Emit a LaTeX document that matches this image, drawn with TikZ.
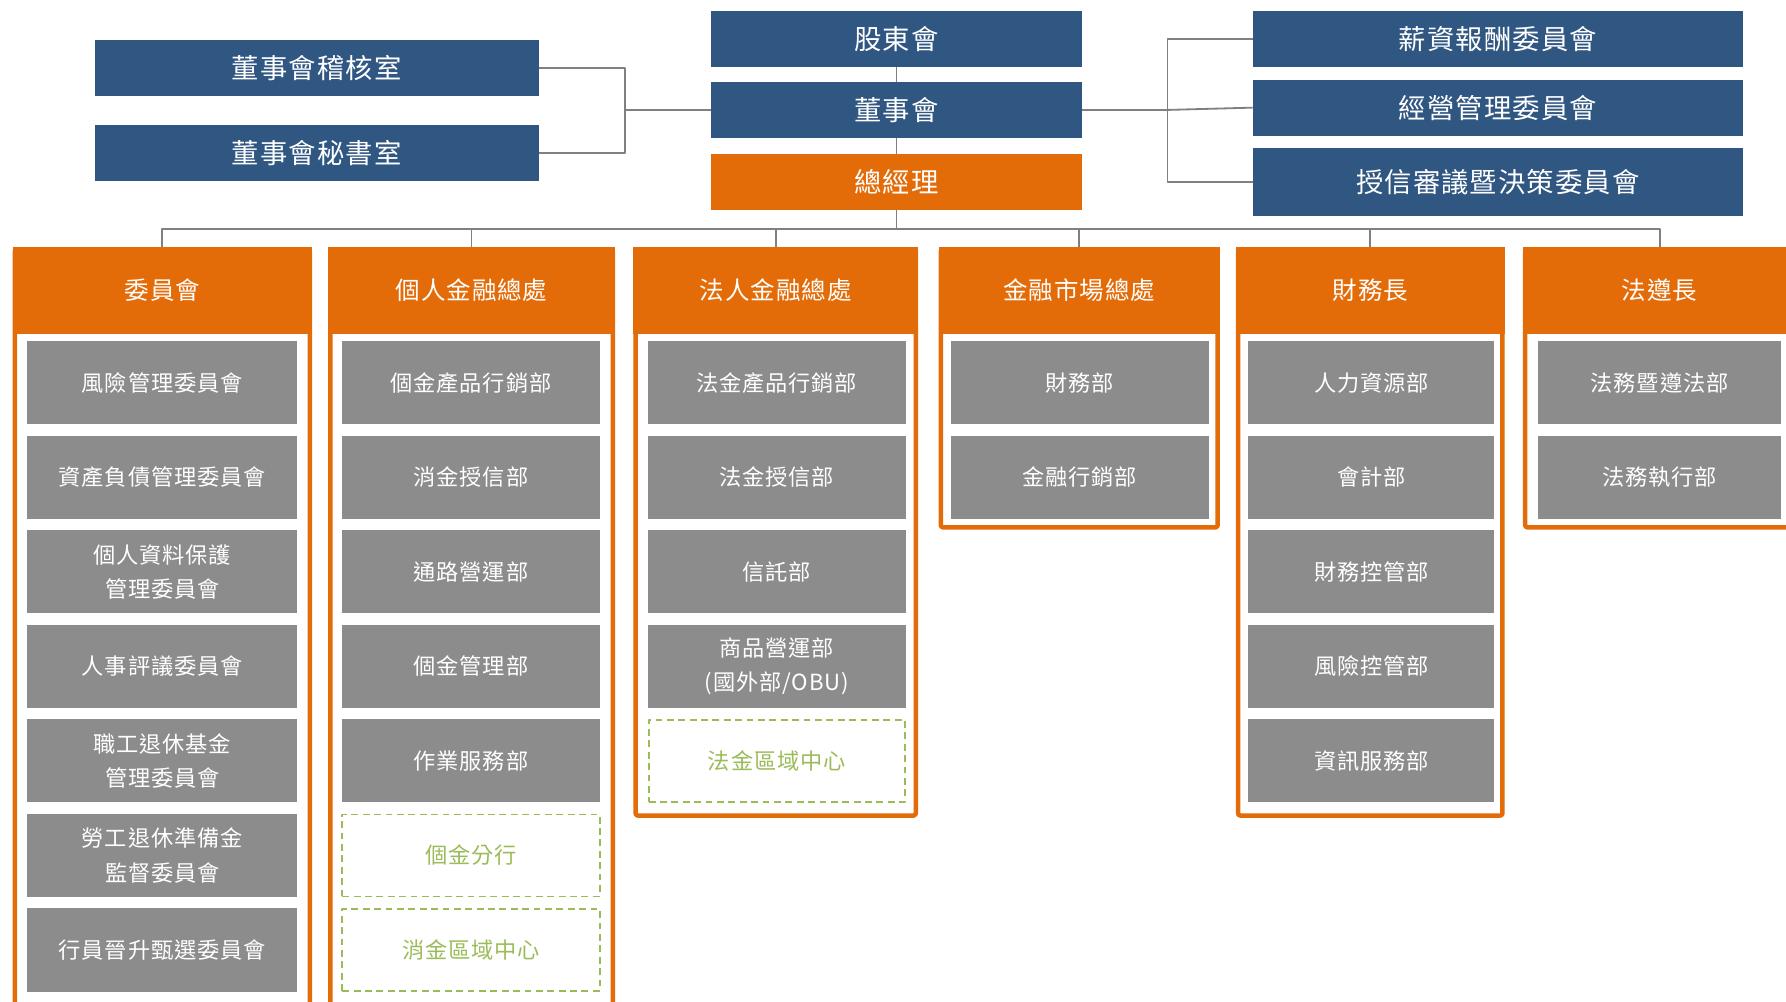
\documentclass[tikz,border=0pt]{standalone}
\usepackage{fontspec}
\setmainfont[LetterSpace=4]{Noto Sans CJK TC}
\definecolor{boardblue}{RGB}{48,86,130}
\definecolor{mgrorange}{RGB}{227,108,9}
\definecolor{deptgrey}{RGB}{140,140,140}
\definecolor{branchgreen}{RGB}{155,187,89}
\definecolor{linkgrey}{RGB}{128,128,128}
\begin{document}
\begin{tikzpicture}[x=1pt,y=-1pt,line join=round,font=\fontsize{19.5}{30}\selectfont]
			\tikzset{top/.style={fill=boardblue,text=white,inner sep=0pt,minimum height=49pt,font=\fontsize{24}{28}\selectfont},
				head/.style={fill=mgrorange,text=white,inner sep=0pt,minimum height=76pt,font=\fontsize{21.5}{26}\selectfont},
				dept/.style={fill=deptgrey,text=white,inner sep=0pt,minimum height=73pt,align=center},
				branch/.style={draw=branchgreen,dashed,line width=1.6pt,dash pattern=on 6pt off 4pt,text=branchgreen,inner sep=0pt,minimum height=72pt},
				frame/.style={draw=mgrorange,line width=4pt,rounded corners=2pt},
				link/.style={draw=linkgrey,line width=1.6pt}}
			\useasboundingbox (0,0) rectangle (1568,879);
			% top part
			\node[top,minimum width=390pt] (jh) at (278,59.5) {董事會稽核室};
			\node[top,minimum width=390pt] (ms) at (278,134.5) {董事會秘書室};
			\node[top,minimum width=326pt] (gd) at (787,34.5) {股東會};
			\node[top,minimum width=326pt] (dsh) at (787,96.5) {董事會};
			\node[top,minimum width=326pt,fill=mgrorange] (zjl) at (787,159.5) {總經理};
			\node[top,minimum width=430pt] (xc) at (1315,34.5) {薪資報酬委員會};
			\node[top,minimum width=430pt] (jy) at (1315,94.5) {經營管理委員會};
			\node[top,minimum width=430pt,minimum height=60pt] (sx) at (1315,160) {授信審議暨決策委員會};
			\coordinate (lb) at (549,96.5);
			\coordinate (rb) at (1025,96.5);
			\coordinate (bus) at (787,201);
			\draw[link] (gd) -- (dsh);
			\draw[link] (dsh) -- (zjl);
			\draw[link] (jh.east) -| (lb) |- (ms.east);
			\draw[link] (lb) -- (dsh.west);
			\draw[link] (dsh.east) -- (rb);
			\draw[link] (xc.west) -| (rb) |- (sx.west);
			\draw[link] (rb) -- (jy.west);
			% columns
			\foreach \n/\x/\w/\b/\t in {1/142.5/263/900/委員會,2/414/252/900/個人金融總處,3/681/250/716/法人金融總處,
				4/947.5/247/463/金融市場總處,5/1203/236/716/財務長,6/1457/240/463/法遵長}{
				\draw[frame] (\x-\w/2+2,219) rectangle (\x+\w/2-2,\b);
				\node[head,minimum width=\w pt] (h\n) at (\x,255) {\t};
				\draw[link] (zjl.south) -- (bus) -| (h\n.north);
			}
			% departments
			\foreach \i/\t in {1/風險管理委員會,2/資產負債管理委員會,3/{個人資料保護\\管理委員會},4/人事評議委員會,
				5/{職工退休基金\\管理委員會},6/{勞工退休準備金\\監督委員會},7/行員晉升甄選委員會}
			\node[dept,minimum width=237pt] (a\i) at (142.5,{336+83*(\i-1)}) {\t};
			\foreach \i/\t in {1/個金產品行銷部,2/消金授信部,3/通路營運部,4/個金管理部,5/作業服務部}
			\node[dept,minimum width=227pt] (b\i) at (413.5,{336+83*(\i-1)}) {\t};
			\node[branch,minimum width=226pt] (b6) at (413.5,751) {個金分行};
			\node[branch,minimum width=226pt] (b7) at (413.5,834) {消金區域中心};
			\foreach \i/\t in {1/法金產品行銷部,2/法金授信部,3/信託部,4/{商品營運部\\(國外部/OBU)}}
			\node[dept,minimum width=226pt] (c\i) at (682,{336+83*(\i-1)}) {\t};
			\node[branch,minimum width=225pt] (c5) at (682,668) {法金區域中心};
			\foreach \i/\t in {1/財務部,2/金融行銷部}
			\node[dept,minimum width=226pt] (d\i) at (948,{336+83*(\i-1)}) {\t};
			\foreach \i/\t in {1/人力資源部,2/會計部,3/財務控管部,4/風險控管部,5/資訊服務部}
			\node[dept,minimum width=216pt] (e\i) at (1204,{336+83*(\i-1)}) {\t};
			\foreach \i/\t in {1/法務暨遵法部,2/法務執行部}
			\node[dept,minimum width=214pt] (f\i) at (1457,{336+83*(\i-1)}) {\t};
		\end{tikzpicture}
\end{document}
